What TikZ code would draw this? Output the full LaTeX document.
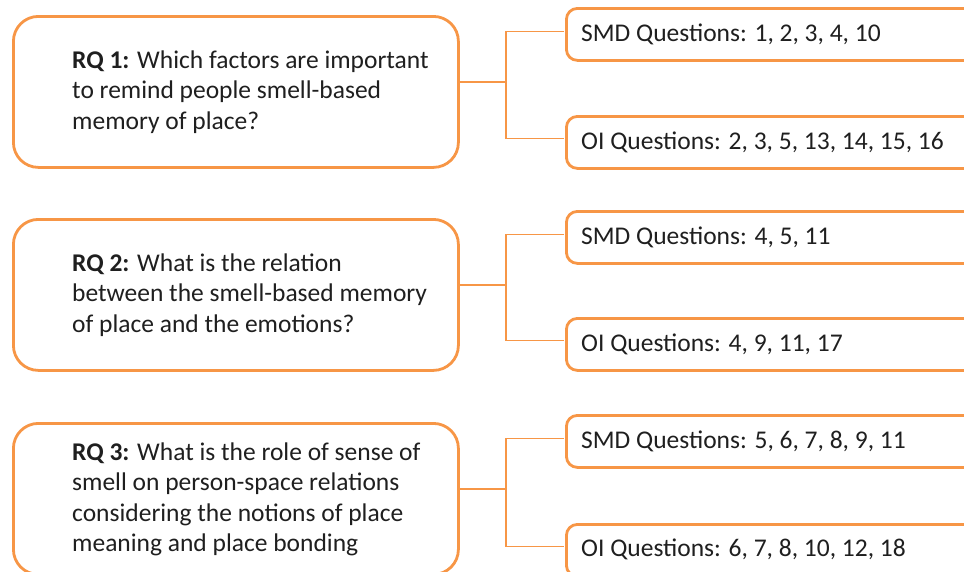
\documentclass[tikz,border=0pt]{standalone}
\usepackage{fontspec}
\setmainfont{Carlito}
\definecolor{accent}{HTML}{F79646}
\definecolor{ink}{HTML}{1F1F1F}
\begin{document}
\begin{tikzpicture}[x=1pt,y=-1pt,
  rqbox/.style={draw=accent, line width=2.8pt, rounded corners=25pt, fill=white,
    minimum width=445pt, minimum height=151pt, anchor=north west, inner sep=0pt},
  qbox/.style={draw=accent, line width=2.8pt, rounded corners=11pt, fill=white,
    minimum width=440pt, minimum height=52pt, anchor=north west, inner sep=0pt},
  rqtext/.style={anchor=west, align=left, text=ink, inner sep=0pt,
    font=\fontsize{25.5pt}{30.5pt}\selectfont},
  qtext/.style={anchor=west, text=ink, inner sep=0pt,
    font=\fontsize{25.5pt}{30pt}\selectfont},
  link/.style={draw=accent, line width=1.8pt}]
\useasboundingbox (0,0) rectangle (964,571);
\clip (0,0) rectangle (964,571);

% research-question boxes
\node[rqbox] (rq1) at (12,15) {};
\node[rqbox] (rq2) at (12,218) {};
\node[rqbox] (rq3) at (12,422) {};

\node[rqtext] (t1) at (72,92) {\textbf{RQ 1:} Which factors are important\\to remind people smell-based\\memory of place?};
\node[rqtext] (t2) at (72,295) {\textbf{RQ 2:} What is the relation\\between the smell-based memory\\of place and the emotions?};
\node[rqtext] (t3) at (72,499.5) {\textbf{RQ 3:} What is the role of sense of\\smell on person-space relations\\considering the notions of place\\meaning and place bonding};

% question boxes
\node[qbox] (smd1) at (565,7) {};
\node[qbox] (oi1) at (565,115) {};
\node[qbox] (smd2) at (565,210) {};
\node[qbox] (oi2) at (565,317) {};
\node[qbox] (smd3) at (565,414) {};
\node[qbox] (oi3) at (565,523) {};

\node[qtext] (s1) at (581,34) {SMD Questions: 1, 2, 3, 4, 10};
\node[qtext] (o1) at (581,142) {OI Questions: 2, 3, 5, 13, 14, 15, 16};
\node[qtext] (s2) at (581,237) {SMD Questions: 4, 5, 11};
\node[qtext] (o2) at (581,344) {OI Questions: 4, 9, 11, 17};
\node[qtext] (s3) at (581,441) {SMD Questions: 5, 6, 7, 8, 9, 11};
\node[qtext] (o3) at (581,549) {OI Questions: 6, 7, 8, 10, 12, 18};

% branching connectors
\foreach \i in {1,2,3} {
  \coordinate (j\i) at ([xshift=46pt,yshift=10pt]rq\i.east);
  \draw[link] ([yshift=10pt]rq\i.east) -- (j\i);
  \draw[link] ([xshift=-1pt,yshift=3pt]smd\i.west) -| (j\i) |- ([xshift=-1pt,yshift=4pt]oi\i.west);
}
\end{tikzpicture}
\end{document}
